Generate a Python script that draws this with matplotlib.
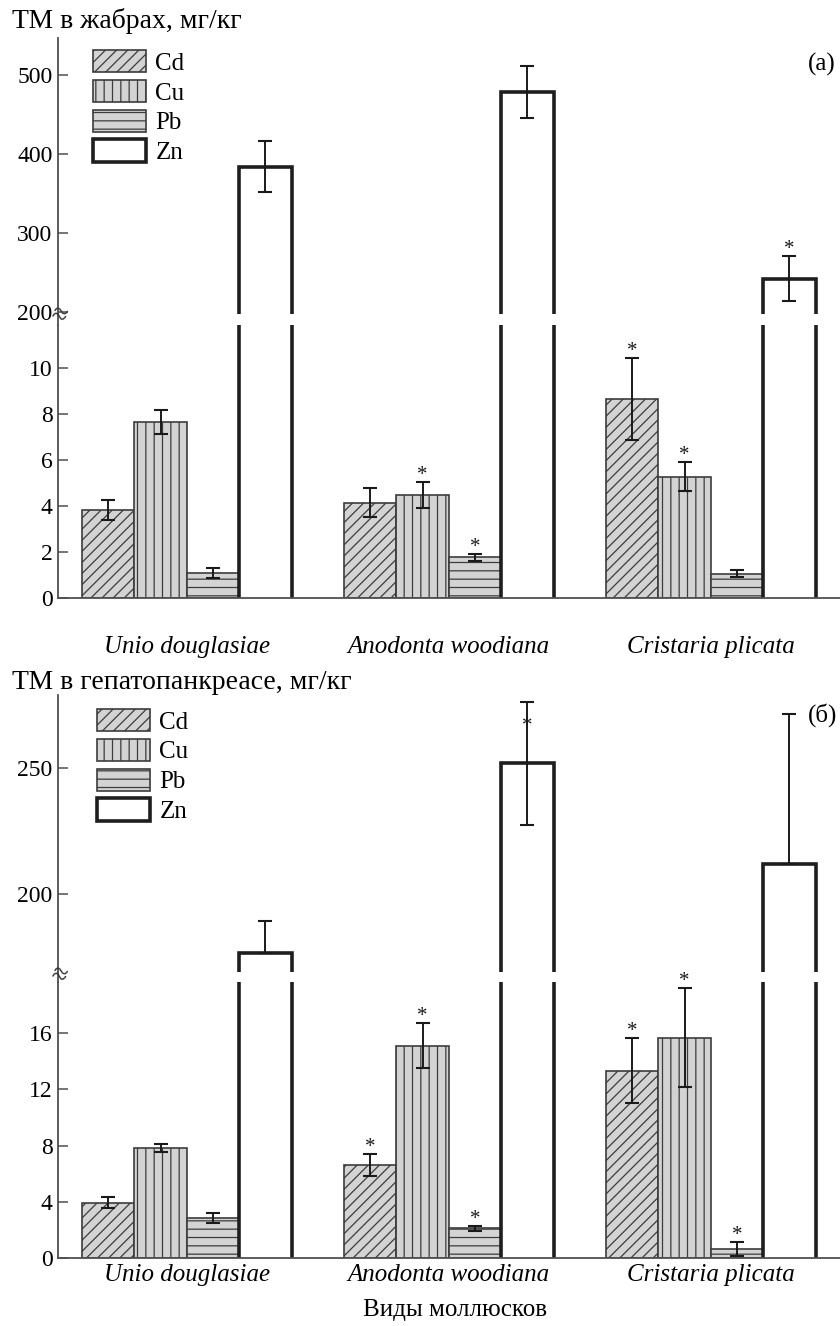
import matplotlib
matplotlib.use('Agg')
import matplotlib.pyplot as plt
from matplotlib.lines import Line2D
import numpy as np

plt.rcParams['font.family'] = ['Liberation Serif', 'DejaVu Serif']
plt.rcParams['hatch.linewidth'] = 0.9

# ---------------- data ----------------
species = ['Unio douglasiae', 'Anodonta woodiana', 'Cristaria plicata']
metals = ['Cd', 'Cu', 'Pb', 'Zn']

# panel (а): gills, mg/kg
gill_cd = [3.84, 4.16, 8.67]
gill_cd_err = [0.43, 0.63, 1.78]
gill_cu = [7.68, 4.49, 5.29]
gill_cu_err = [0.52, 0.58, 0.64]
gill_pb = [1.10, 1.78, 1.07]
gill_pb_err = [0.23, 0.16, 0.15]
gill_zn = [384.0, 478.0, 242.0]
gill_zn_err = [32.0, 33.0, 29.0]
gill_star_cd = [False, False, True]
gill_star_cu = [False, True, True]
gill_star_pb = [False, True, False]
gill_star_zn = [False, False, True]

# panel (б): hepatopancreas, mg/kg
hep_cd = [3.94, 6.62, 13.33]
hep_cd_err = [0.38, 0.75, 2.33]
hep_cu = [7.81, 15.09, 15.68]
hep_cu_err = [0.27, 1.60, 3.54]
hep_pb = [2.87, 2.11, 0.64]
hep_pb_err = [0.36, 0.18, 0.50]
hep_zn = [176.8, 251.7, 211.9]
hep_zn_err = [12.4, 24.4, 59.3]
hep_star_cd = [False, True, True]
hep_star_cu = [False, True, True]
hep_star_pb = [False, True, True]
hep_star_zn = [False, True, False]

gill_ticks_up = [200, 300, 400, 500]
gill_ticks_lo = [0, 2, 4, 6, 8, 10]
hep_ticks_up = [200, 250]
hep_ticks_lo = [0, 4, 8, 12, 16]

# ---------------- layout / style ----------------
W, H = 840, 1326
fig = plt.figure(figsize=(W / 100, H / 100), dpi=100)


def add_ax(left, top, right, bottom):
    return fig.add_axes([left / W, 1 - bottom / H, (right - left) / W, (bottom - top) / H])


AX_L, AX_R = 58, 840
GROUP_PX = 262.0
X0_PX = 186.7
XLIM = ((AX_L - X0_PX) / GROUP_PX, (AX_R - X0_PX) / GROUP_PX)
BAR_W = 0.2
offsets = (np.arange(4) - 1.5) * BAR_W

GRAY = '#d3d3d3'
EDGE = '#3c3c3c'
styles = [
    dict(facecolor=GRAY, edgecolor=EDGE, hatch='///', linewidth=1.2),
    dict(facecolor=GRAY, edgecolor=EDGE, hatch='||', linewidth=1.2),
    dict(facecolor=GRAY, edgecolor=EDGE, hatch='--', linewidth=1.2),
    dict(facecolor='white', edgecolor='#1e1e1e', linewidth=2.6),
]
ERR_KW = dict(fmt='none', ecolor='#1a1a1a', elinewidth=1.4, capsize=4.8, capthick=1.5, zorder=4)
SPINE_C = '#505050'
SPINE_LW = 1.3
TICK_FS = 17
LABEL_FS = 18
STAR_FS = 15


def panel(box_up, box_lo, ylim_up, ylim_lo, yt_up, yt_lo, vals, errs, stars, star_dy,
          label_pad, title, title_y, tag, tag_xy, legend_xy, brk_y):
    up = add_ax(*box_up)
    lo = add_ax(*box_lo)
    up.set_ylim(*ylim_up)
    lo.set_ylim(*ylim_lo)
    x = np.arange(len(species))
    handles = []
    for k in range(4):
        xs = x + offsets[k]
        v = np.array(vals[k], dtype=float)
        e = np.array(errs[k], dtype=float)
        if k < 3:
            b = lo.bar(xs, v, width=BAR_W, zorder=2, **styles[k])
        else:
            # open Zn bar: its base edge sits just under the axis so only the sides show
            base = -0.03 * ylim_lo[1]
            lo.bar(xs, v - base, bottom=base, width=BAR_W, zorder=2, **styles[k])
            b = up.bar(xs, v, width=BAR_W, zorder=2, **styles[k])
        handles.append(b)
        ax_e = lo if k < 3 else up
        lower = np.where(v - e < ax_e.get_ylim()[0], 0.0, e)
        ax_e.errorbar(xs, v, yerr=[lower, e], **ERR_KW)
        for i in range(len(xs)):
            if stars[k][i]:
                ax_e.annotate('*', xy=(xs[i], v[i] + e[i]),
                              xytext=(0, 1.5 + star_dy[k][i]), textcoords='offset points',
                              ha='center', va='baseline', fontsize=STAR_FS,
                              color='#1a1a1a', zorder=5, annotation_clip=False)

    for ax in (up, lo):
        ax.set_xlim(*XLIM)
        ax.patch.set_alpha(0)
        ax.spines['right'].set_visible(False)
        ax.spines['top'].set_visible(False)
        ax.spines['left'].set_color(SPINE_C)
        ax.spines['left'].set_linewidth(SPINE_LW)
        ax.spines['left'].set_zorder(6)
        ax.tick_params(axis='y', direction='in', length=7, width=1.1, color=SPINE_C,
                       labelsize=TICK_FS, pad=4)
    up.spines['bottom'].set_visible(False)
    up.set_xticks([])
    lo.spines['bottom'].set_color(SPINE_C)
    lo.spines['bottom'].set_linewidth(SPINE_LW)
    lo.spines['bottom'].set_zorder(6)
    up.set_yticks(yt_up)
    lo.set_yticks(yt_lo)
    lo.set_xticks(x)
    lo.set_xticklabels(species, fontstyle='italic', fontsize=LABEL_FS)
    lo.tick_params(axis='x', length=0, pad=label_pad)

    # continuous axis line through the break and the break mark
    fig.add_artist(Line2D([AX_L / W, AX_L / W], [1 - box_up[3] / H, 1 - box_lo[1] / H],
                          color=SPINE_C, lw=SPINE_LW))
    fig.text(AX_L / W, 1 - brk_y / H, '≈', ha='center', va='center', fontsize=20,
             color='#333333', rotation=-20)

    up.legend(handles, metals, loc='upper left',
              bbox_to_anchor=(legend_xy[0] / W, 1 - legend_xy[1] / H),
              bbox_transform=fig.transFigure, frameon=False, fontsize=18,
              handlelength=2.1, handleheight=1.0, labelspacing=0.2,
              handletextpad=0.4, borderpad=0, borderaxespad=0)

    fig.text(12 / W, 1 - title_y / H, title, ha='left', va='baseline', fontsize=20)
    fig.text(tag_xy[0] / W, 1 - tag_xy[1] / H, tag, ha='right', va='center', fontsize=18)


no_dy = [[0, 0, 0]] * 4

panel(box_up=(AX_L, 38, AX_R, 314), box_lo=(AX_L, 325, AX_R, 598.3),
      ylim_up=(197.1, 546.9), ylim_lo=(0, 11.88),
      yt_up=gill_ticks_up, yt_lo=gill_ticks_lo,
      vals=[gill_cd, gill_cu, gill_pb, gill_zn],
      errs=[gill_cd_err, gill_cu_err, gill_pb_err, gill_zn_err],
      stars=[gill_star_cd, gill_star_cu, gill_star_pb, gill_star_zn],
      star_dy=no_dy, label_pad=27,
      title='ТМ в жабрах, мг/кг', title_y=28, tag='(а)', tag_xy=(836, 64),
      legend_xy=(93, 50), brk_y=316)

panel(box_up=(AX_L, 695, AX_R, 972), box_lo=(AX_L, 982, AX_R, 1258),
      ylim_up=(169.2, 278.7), ylim_lo=(0, 19.64),
      yt_up=hep_ticks_up, yt_lo=hep_ticks_lo,
      vals=[hep_cd, hep_cu, hep_pb, hep_zn],
      errs=[hep_cd_err, hep_cu_err, hep_pb_err, hep_zn_err],
      stars=[hep_star_cd, hep_star_cu, hep_star_pb, hep_star_zn],
      star_dy=[[0, 0, 0], [0, 0, 0], [0, 0, 0], [0, -23, 0]], label_pad=4,
      title='ТМ в гепатопанкреасе, мг/кг', title_y=689, tag='(б)', tag_xy=(837, 715),
      legend_xy=(97, 709), brk_y=976)

fig.text(455 / W, 1 - 1310 / H, 'Виды моллюсков', ha='center', va='center', fontsize=18)

fig.savefig('out.png', dpi=100)
